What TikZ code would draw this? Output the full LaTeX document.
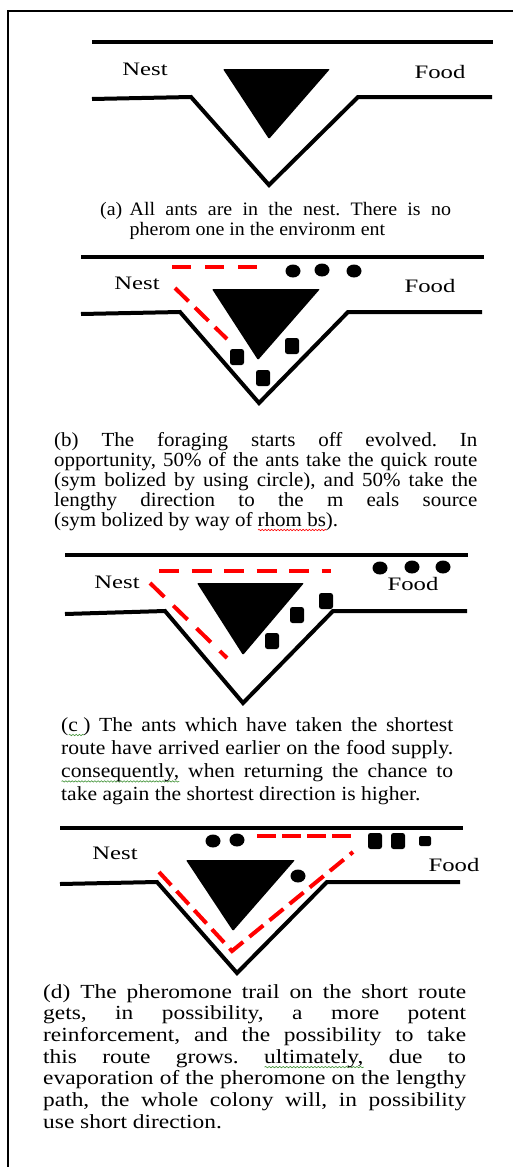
\documentclass[tikz,border=0pt]{standalone}
\usepackage{fontspec}
\setmainfont{Liberation Serif}
\usepackage{graphicx}
\usetikzlibrary{decorations.pathmorphing}
\definecolor{squiggreen}{RGB}{70,150,60}
\frenchspacing
% wavy proofing underline in a given colour
\newsavebox{\wavebox}
\newcommand{\waveunder}[2]{\sbox{\wavebox}{#2}\leavevmode\rlap{\raisebox{-4pt}{\tikz[baseline=0pt]\draw[#1, line width=0.6pt, decorate, decoration={snake, amplitude=0.7pt, segment length=3pt}] (0pt,0pt) -- (\wd\wavebox,0pt);}}\usebox{\wavebox}}
% a justified line of full width
\newcommand{\jl}[1]{\makebox[\linewidth][s]{#1}}
\newcommand{\antblock}[2]{\fill[rounded corners=2.5pt] ({#1-7},{#2-8}) rectangle ({#1+7},{#2+8});}
\newcommand{\antdot}[2]{\fill (#1,#2) ellipse [x radius=7.5, y radius=6.5];}
\tikzset{
  wall/.style={line width=4pt},
  rock/.style={fill=black, rounded corners=1pt},
  trail/.style={red, line width=4pt, dash pattern=on 20pt off 12.5pt},
  place/.style={inner sep=0pt, font=\fontsize{19}{19}\selectfont},
  caption/.style={inner sep=0pt, anchor=base west},
}
\begin{document}
\begin{tikzpicture}[x=1pt,y=-1pt]
\useasboundingbox (0,0) rectangle (513,1167);
\fill[white] (0,0) rectangle (513,1167);
% outer frame
\draw[line width=2pt] (8,1167) -- (8,11) -- (513,11);

% ---------- (a) ----------
\draw[wall] (92,42) -- (493,42);
\draw[wall] (92,99) -- (191,97) -- (269,185) -- (358,97) -- (492,97);
\fill[rock] (223,69) -- (330,69) -- (269,139) -- cycle;
\node[place] (nestA) at (145,69) {\scalebox{1.3}[1]{Nest}};
\node[place] (foodA) at (440,72) {\scalebox{1.3}[1]{Food}};
\node[caption] (capA) at (100,215) {\fontsize{19}{20}\selectfont\scalebox{1.05}[1]{%
  \begin{tabular}[t]{@{}l@{\hspace{7pt}}l@{}}
  (a) & \makebox[306pt][s]{All ants are in the nest. There is no}\\
      & pherom one in the environm ent
  \end{tabular}}};

% ---------- (b) ----------
\draw[wall] (81,257) -- (484,257);
\draw[wall] (81,314) -- (180,312) -- (259,403) -- (348,312) -- (482,312);
\fill[rock] (212,289) -- (320,289) -- (258,360) -- cycle;
\draw[trail, dash pattern=on 19pt off 14pt] (172,267) -- (257,267);
\draw[trail, dash pattern=on 19pt off 9pt] (175,288) -- (227,339);
\node[place] (nestB) at (137,283) {\scalebox{1.3}[1]{Nest}};
\node[place] (foodB) at (430,286) {\scalebox{1.3}[1]{Food}};
\antdot{293}{271}\antdot{322}{270}\antdot{354}{271}
\antblock{237}{357}\antblock{292}{346}\antblock{263}{378}
\node[caption] (capB) at (54,446) {\fontsize{20}{20}\selectfont\scalebox{1.05}[1]{%
  \parbox[t]{403pt}{%
  \jl{(b) The foraging starts off evolved. In}\\
  \jl{opportunity, 50\% of the ants take the quick route}\\
  \jl{(sym bolized by using circle), and 50\% take the}\\
  \jl{lengthy direction to the m eals source}\\
  (sym bolized by way of \waveunder{red}{rhom bs}).}}};

% ---------- (c) ----------
\draw[wall] (65,555) -- (468,555);
\draw[wall] (65,614) -- (165,611) -- (243,703) -- (333,611) -- (467,611);
\fill[rock] (197,583) -- (304,583) -- (243,655) -- cycle;
\draw[trail] (159,571) -- (331,571);
\draw[trail] (150,583) -- (227,658);
\node[place] (nestC) at (117,582) {\scalebox{1.3}[1]{Nest}};
\node[place] (foodC) at (413,584) {\scalebox{1.3}[1]{Food}};
\antdot{380}{568}\antdot{412}{567}\antdot{443}{567}
\antblock{326}{601}\antblock{297}{615}\antblock{272}{641}
\node[caption] (capC) at (61,731) {\fontsize{20}{23.2}\selectfont\scalebox{1.08}[1]{%
  \parbox[t]{363pt}{%
  \jl{(\waveunder{squiggreen}{c\ }) The ants which have taken the shortest}\\
  \jl{route have arrived earlier on the food supply.}\\
  \jl{\waveunder{squiggreen}{consequently,} when returning the chance to}\\
  take again the shortest direction is higher.}}};

% ---------- (d) ----------
\draw[wall] (60,828) -- (463,828);
\draw[wall] (60,884) -- (157,882) -- (237,973) -- (327,882) -- (460,882);
\fill[rock] (186,860) -- (295,860) -- (233,931) -- cycle;
\draw[trail, dash pattern=on 19pt off 6pt] (257,836) -- (353,836);
\draw[trail, dash pattern=on 18pt off 8pt] (159,872) -- (232,951) -- (353,852);
\node[place] (nestD) at (115,853) {\scalebox{1.3}[1]{Nest}};
\node[place] (foodD) at (454,865) {\scalebox{1.3}[1]{Food}};
\antdot{213}{841}\antdot{237}{840}\antdot{298}{876}
\antblock{375}{841}\antblock{398}{841}
\fill[rounded corners=2pt] (419,836) rectangle (431,846);
\node[caption] (capD) at (43,998) {\fontsize{20}{21.7}\selectfont\scalebox{1.17}[1]{%
  \parbox[t]{361.5pt}{%
  \jl{(d) The pheromone trail on the short route}\\
  \jl{gets, in possibility, a more potent}\\
  \jl{reinforcement, and the possibility to take}\\
  \jl{this route grows. \waveunder{squiggreen}{ultimately,} due to}\\
  \jl{evaporation of the pheromone on the lengthy}\\
  \jl{path, the whole colony will, in possibility}\\
  use short direction.}}};
\end{tikzpicture}
\end{document}
